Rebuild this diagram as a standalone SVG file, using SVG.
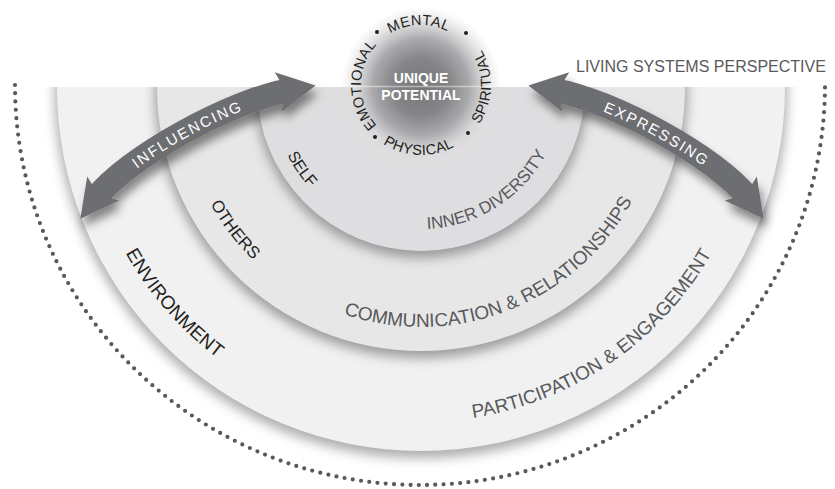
<svg xmlns="http://www.w3.org/2000/svg" width="835" height="489" viewBox="0 0 835 489">
<defs>
<style>
.t{font-family:"Liberation Sans",Arial,sans-serif;}
.dark{fill:#231f20}
.gray{fill:#58595b}
.shadow{fill:#808083;filter:url(#blur)}
.body{fill:none;stroke:#6d6e71;stroke-width:24;marker-start:url(#head);marker-end:url(#head)}
.atxt{fill:#ffffff;font-size:15px;letter-spacing:2px}
.ring{font-size:14.5px;letter-spacing:0.4px;fill:#231f20}
</style>
<clipPath id="below"><rect x="0" y="87" width="835" height="402"/></clipPath>
<filter id="blur" x="-10%" y="-10%" width="120%" height="120%"><feGaussianBlur stdDeviation="6"/></filter>
<filter id="ashadow" x="-20%" y="-40%" width="140%" height="180%">
<feDropShadow dx="3" dy="8" stdDeviation="5" flood-color="#000" flood-opacity="0.45"/>
</filter>
<radialGradient id="core" cx="421" cy="87" r="80" gradientUnits="userSpaceOnUse">
<stop offset="0" stop-color="#77777a"/>
<stop offset="0.35" stop-color="#858588"/>
<stop offset="0.6" stop-color="#a9a9ac"/>
<stop offset="0.8" stop-color="#d6d6d8" stop-opacity="0.85"/>
<stop offset="1" stop-color="#e2e2e3" stop-opacity="0"/>
</radialGradient>
<marker id="head" markerUnits="userSpaceOnUse" viewBox="-14 -22 42 44" refX="0" refY="0" markerWidth="42" markerHeight="44" orient="auto-start-reverse">
<path d="M-12,-20 L26,0 L-12,20 L-4,0 Z" fill="#6d6e71"/>
</marker>
<path id="r150" d="M271,87 A150,150 0 0 0 571,87"/>
<path id="r142" d="M279,87 A142,142 0 0 0 563,87"/>
<path id="r241" d="M180,87 A241,241 0 0 0 662,87"/>
<path id="r240" d="M181,87 A240,240 0 0 0 661,87"/>
<path id="r339" d="M82,87 A339,339 0 0 0 760,87"/>
<path id="r335" d="M86,87 A335,335 0 0 0 756,87"/>
<path id="ringTop" d="M421,145 A60,60 0 0 1 421,25 A60,60 0 0 1 421,145"/>
<path id="ringBot" d="M351,85 A70,70 0 0 0 491,85 A70,70 0 0 0 351,85"/>
<path id="inflPath" d="M96,198 C126,158 232,100 290,90"/>
<path id="exprPath" d="M554,90 C612,100 718,158 748,198"/>
</defs>
<rect width="835" height="489" fill="#ffffff"/>

<g id="living-systems">
<path d="M15,85 A405,400 0 0 0 825,85" fill="none" stroke="#58595b" stroke-width="4.2" stroke-linecap="round" stroke-dasharray="0 8.3"/>
<text class="t gray" x="576" y="72" font-size="16">LIVING SYSTEMS PERSPECTIVE</text>
</g>

<g id="environment">
<g clip-path="url(#below)">
<circle class="shadow" cx="421" cy="92" r="366" opacity="0.65"/>
<circle cx="421" cy="87" r="364" fill="#f1f1f2"/>
</g>
<text class="t dark" font-size="19" text-anchor="middle"><textPath href="#r339" startOffset="22.9%">ENVIRONMENT</textPath></text>
<text class="t gray" font-size="19" text-anchor="middle"><textPath href="#r335" startOffset="69.2%">PARTICIPATION &amp; ENGAGEMENT</textPath></text>
</g>

<g id="others">
<g clip-path="url(#below)">
<circle class="shadow" cx="421" cy="92" r="266" opacity="0.75"/>
<circle cx="421" cy="87" r="264" fill="#e7e7e8"/>
</g>
<text class="t dark" font-size="17" text-anchor="middle"><textPath href="#r241" startOffset="20.8%">OTHERS</textPath></text>
<text class="t gray" font-size="19" text-anchor="middle"><textPath href="#r240" startOffset="61.9%">COMMUNICATION &amp; RELATIONSHIPS</textPath></text>
</g>

<g id="self">
<g clip-path="url(#below)">
<circle class="shadow" cx="421" cy="92" r="166" opacity="0.75"/>
<circle cx="421" cy="87" r="164" fill="#dedee0"/>
</g>
<text class="t dark" font-size="16" text-anchor="middle"><textPath href="#r150" startOffset="19.2%">SELF</textPath></text>
<text class="t gray" font-size="17" text-anchor="middle"><textPath href="#r142" startOffset="67.9%">INNER DIVERSITY</textPath></text>
</g>

<g id="unique-potential">
<circle cx="421" cy="87" r="80" fill="url(#core)"/>
<line x1="350" y1="86.5" x2="492" y2="86.5" stroke="#ffffff" stroke-opacity="0.45" stroke-width="1.5"/>
<text class="t" fill="#ffffff" font-size="14" font-weight="bold" text-anchor="middle" x="421" y="83">UNIQUE</text>
<text class="t" fill="#ffffff" font-size="14" font-weight="bold" text-anchor="middle" x="421" y="100">POTENTIAL</text>
<text class="t ring" text-anchor="middle"><textPath href="#ringTop" startOffset="25%">EMOTIONAL</textPath></text>
<text class="t ring" text-anchor="middle"><textPath href="#ringTop" startOffset="49.4%">MENTAL</textPath></text>
<text class="t ring" text-anchor="middle"><textPath href="#ringBot" startOffset="24.4%">PHYSICAL</textPath></text>
<text class="t ring" text-anchor="middle"><textPath href="#ringBot" startOffset="49.5%">SPIRITUAL</textPath></text>
<circle cx="377" cy="32" r="2" fill="#231f20"/>
<circle cx="466" cy="33" r="2" fill="#231f20"/>
<circle cx="468" cy="133" r="2" fill="#231f20"/>
<circle cx="375" cy="137" r="2" fill="#231f20"/>
</g>

<g id="connectors">
<g id="influencing">
<g filter="url(#ashadow)"><use href="#inflPath" class="body"/></g>
<text class="t atxt" text-anchor="middle" dominant-baseline="central"><textPath href="#inflPath" startOffset="50%">INFLUENCING</textPath></text>
</g>
<g id="expressing">
<g filter="url(#ashadow)"><use href="#exprPath" class="body"/></g>
<text class="t atxt" text-anchor="middle" dominant-baseline="central"><textPath href="#exprPath" startOffset="50%">EXPRESSING</textPath></text>
</g>
</g>
</svg>
